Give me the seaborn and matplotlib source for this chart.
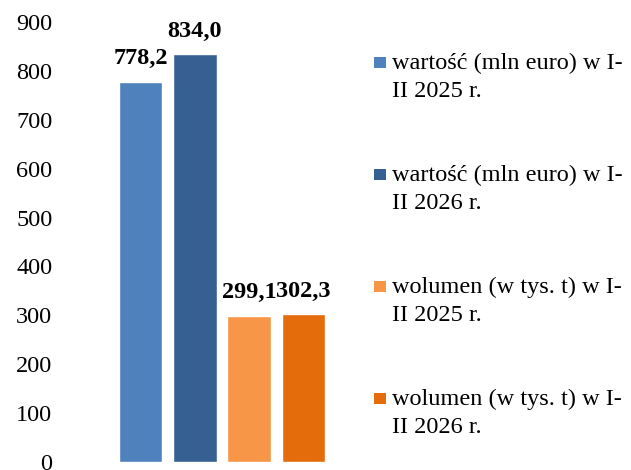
import matplotlib
matplotlib.use("Agg")
import matplotlib.pyplot as plt
from matplotlib.patches import Rectangle
import seaborn as sns

# dane z wykresu
kategorie = ["wartość (mln euro) w I-\nII 2025 r.",
             "wartość (mln euro) w I-\nII 2026 r.",
             "wolumen (w tys. t) w I-\nII 2025 r.",
             "wolumen (w tys. t) w I-\nII 2026 r."]
wartosci = [778.2, 834.0, 299.1, 302.3]
kolory = ["#4F81BD", "#376092", "#F79646", "#E46C0A"]
y_ticks = [0, 100, 200, 300, 400, 500, 600, 700, 800, 900]

sns.set_theme(style="white")
plt.rcParams["font.family"] = ["Liberation Serif", "DejaVu Serif"]

W, H = 631, 470
fig = plt.figure(figsize=(W / 100, H / 100), dpi=100)
ax = fig.add_axes([60 / W, 1 - 462 / H, 285 / W, 440 / H])

sns.barplot(x=kategorie, y=wartosci, hue=kategorie, palette=kolory,
            width=0.8, legend=False, ax=ax, saturation=1)

for cont, v in zip(ax.containers, wartosci):
    ax.bar_label(cont, labels=[f"{v:.1f}".replace(".", ",")], padding=9,
                 fontsize=17.5, fontweight="bold", color="black")

ax.set_ylim(0, 900)
ax.set_yticks(y_ticks)
ax.set_yticklabels([str(t) for t in y_ticks], fontsize=17.5, color="black")
ax.set_xlim(-1.482, 3.764)
ax.set_xticks([])
ax.tick_params(axis="y", length=0, pad=5.5)
for s in ax.spines.values():
    s.set_visible(False)
ax.set_xlabel("")
ax.set_ylabel("")

# legenda po prawej (znacznik przy pierwszej linii opisu)
for i, (lab, kol) in enumerate(zip(kategorie, kolory)):
    top = 57 + 112 * i
    fig.add_artist(Rectangle((374 / W, 1 - (top + 11) / H), 12 / W, 11 / H,
                             transform=fig.transFigure, color=kol, lw=0))
    fig.text(392 / W, 1 - (top + 40) / H, lab, fontsize=17.5, va="baseline",
             ha="left", linespacing=1.45, color="black")

fig.savefig("out.png", dpi=100)
